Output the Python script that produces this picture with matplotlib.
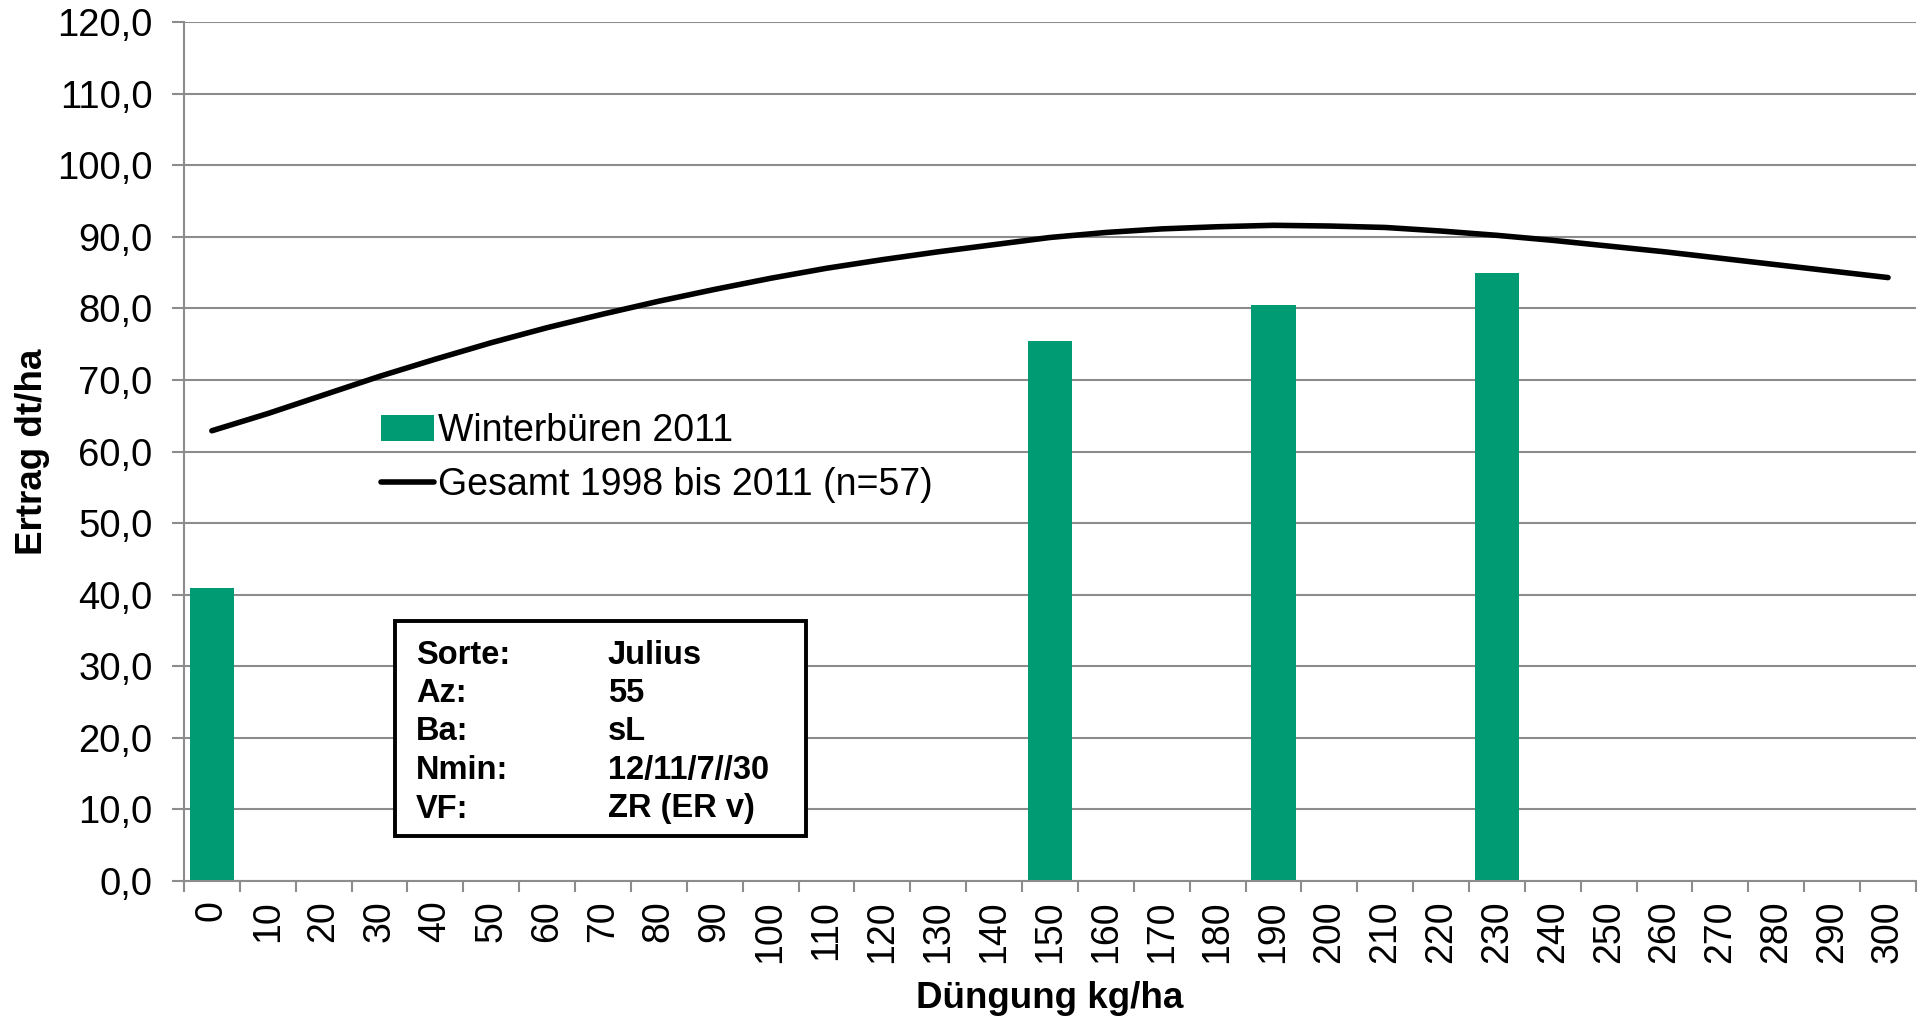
import matplotlib.pyplot as plt
import matplotlib.patches as mpatches
from matplotlib.ticker import FuncFormatter, MultipleLocator
import numpy as np

plt.rcParams['font.family'] = ['Liberation Sans', 'DejaVu Sans']

# Düngung (kg/ha) categories
duengung = list(range(0, 301, 10))

# Winterbüren 2011, only measured at some levels
bar_levels = [0, 150, 190, 230]
bar_values = [41.0, 75.5, 80.5, 85.0]

# Gesamt 1998 bis 2011 (n=57)
gesamt = [62.9, 65.3, 67.9, 70.5, 72.9, 75.2, 77.3, 79.2, 81.0, 82.65,
          84.2, 85.6, 86.8, 87.9, 88.9, 89.9, 90.6, 91.1, 91.4, 91.6,
          91.5, 91.3, 90.8, 90.2, 89.5, 88.7, 87.9, 87.0, 86.1, 85.2, 84.3]

info_keys = ["Sorte:", "Az:", "Ba:", "Nmin:", "VF:"]
info_vals = ["Julius", "55", "sL", "12/11/7//30", "ZR (ER v)"]

green = "#009A73"
grey = "#8C8C8C"

fig = plt.figure(figsize=(19.26, 10.19), dpi=100)
ax = fig.add_axes([0.0955, 0.1354, 0.8993, 0.843])

xpos = np.arange(len(duengung))
bar_x = [duengung.index(v) for v in bar_levels]
bars = ax.bar(bar_x, bar_values, width=0.8, color=green, zorder=2)
line, = ax.plot(xpos, gesamt, color="black", lw=4, solid_capstyle="round", zorder=3)

ax.set_xlim(-0.5, len(duengung) - 0.5)
ax.set_ylim(0, 120)
ax.yaxis.set_major_locator(MultipleLocator(10))
ax.yaxis.set_major_formatter(FuncFormatter(lambda v, p: f"{v:.1f}".replace(".", ",")))
ax.grid(axis="y", color=grey, lw=1.5, zorder=0)
ax.set_axisbelow(True)

ax.set_xticks(xpos)
ax.set_xticklabels([str(d) for d in duengung], rotation=90)
ax.set_xticks(np.arange(-0.5, len(duengung), 1.0), minor=True)
ax.tick_params(axis="x", which="major", length=0, pad=14, labelsize=27)
ax.tick_params(axis="x", which="minor", length=8, width=1.5, color=grey)
ax.tick_params(axis="y", length=8.5, width=1.5, color=grey, pad=14, labelsize=27.5)

for s in ["top", "right"]:
    ax.spines[s].set_visible(False)
for s in ["left", "bottom"]:
    ax.spines[s].set_color(grey)
    ax.spines[s].set_linewidth(1.5)

ax.set_xlabel("Düngung kg/ha", fontsize=26.5, fontweight="bold", labelpad=13)
ax.set_ylabel("Ertrag dt/ha", fontsize=26.5, fontweight="bold", labelpad=5)

leg = ax.legend([bars, line], ["Winterbüren 2011", "Gesamt 1998 bis 2011 (n=57)"],
                loc="upper left", bbox_to_anchor=(0.114, 0.545), frameon=False,
                fontsize=27, handlelength=1.4, handletextpad=0.1,
                labelspacing=0.48, borderpad=0, borderaxespad=0)

# info box
W, H = 1926, 1019
box = mpatches.Rectangle((395 / W, 1 - 836 / H), (806 - 395) / W, (836 - 621) / H,
                         transform=fig.transFigure, facecolor="white",
                         edgecolor="black", lw=2.8, zorder=5)
fig.patches.append(box)
for i, (k, v) in enumerate(zip(info_keys, info_vals)):
    y = 1 - (655 + i * 38.5) / H
    fig.text(416 / W, y, k, fontsize=23.5, fontweight="bold", va="center", zorder=6)
    fig.text(608 / W, y, v, fontsize=23.5, fontweight="bold", va="center", zorder=6)

fig.savefig("out.png", dpi=100)
